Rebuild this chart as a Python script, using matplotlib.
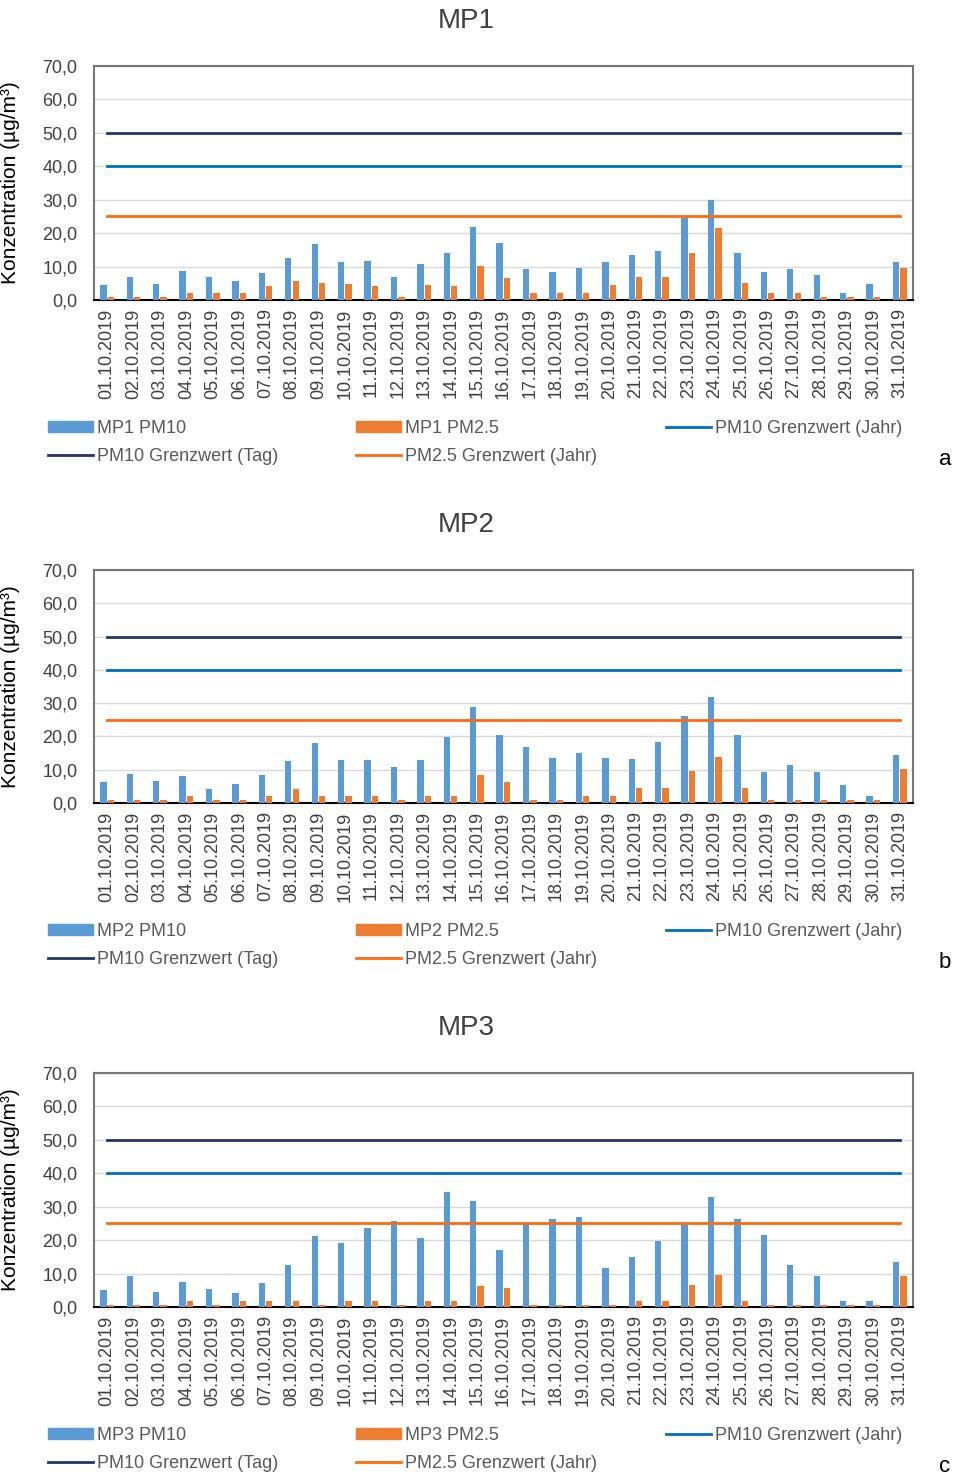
"""PM10 / PM2.5 daily concentrations at MP1-MP3, October 2019."""

import matplotlib
matplotlib.use("Agg")
import matplotlib.pyplot as plt
import numpy as np
from matplotlib.lines import Line2D
from matplotlib.patches import Patch

dates = [f"{d:02d}.10.2019" for d in range(1, 32)]

mp1_pm10 = [4.5, 6.8, 4.9, 8.7, 6.8, 5.6, 8.1, 12.6, 16.8, 11.3, 11.6, 6.8, 10.7, 14.2, 21.9, 17.1,
            9.3, 8.4, 9.7, 11.3, 13.5, 14.8, 24.5, 29.9, 14.2, 8.4, 9.3, 7.4, 2.0, 4.9, 11.3]
mp1_pm25 = [1.0, 1.0, 1.0, 2.0, 2.0, 2.0, 4.2, 5.6, 5.2, 4.9, 4.2, 1.0, 4.5, 4.2, 10.3, 6.5,
            2.0, 2.0, 2.0, 4.5, 6.8, 6.8, 14.2, 21.6, 5.2, 2.0, 2.0, 1.0, 1.0, 1.0, 9.7]

mp2_pm10 = [6.2, 8.7, 6.5, 8.1, 4.2, 5.8, 8.4, 12.6, 18.0, 12.9, 12.9, 10.7, 12.9, 19.7, 28.7, 20.3,
            16.8, 13.6, 14.9, 13.6, 13.2, 18.4, 26.1, 31.9, 20.3, 9.4, 11.3, 9.4, 5.5, 2.0, 14.5]
mp2_pm25 = [1.0, 1.0, 1.0, 2.0, 1.0, 1.0, 2.0, 4.2, 2.0, 2.0, 2.0, 1.0, 2.0, 2.0, 8.4, 6.2,
            1.0, 1.0, 2.0, 2.0, 4.5, 4.5, 9.7, 13.9, 4.5, 1.0, 1.0, 1.0, 1.0, 1.0, 10.3]

mp3_pm10 = [5.0, 9.3, 4.4, 7.4, 5.5, 4.1, 7.1, 12.5, 21.3, 19.1, 23.6, 25.6, 20.7, 34.3, 31.7, 17.1,
            24.9, 26.3, 26.9, 11.6, 14.9, 19.8, 24.9, 33.0, 26.3, 21.6, 12.5, 9.3, 1.9, 1.9, 13.5]
mp3_pm25 = [0.6, 0.6, 0.6, 1.9, 0.6, 1.9, 1.9, 1.9, 0.6, 1.9, 1.9, 0.6, 1.9, 1.9, 6.2, 5.8,
            0.6, 0.6, 0.6, 0.6, 1.9, 1.9, 6.7, 9.7, 1.9, 0.6, 0.6, 0.6, 0.6, 0.6, 9.3]

pm10_tag = 50.0
pm10_jahr = 40.0
pm25_jahr = 25.0

panels = [
    ("MP1", mp1_pm10, mp1_pm25, "a"),
    ("MP2", mp2_pm10, mp2_pm25, "b"),
    ("MP3", mp3_pm10, mp3_pm25, "c"),
]

C_PM10 = "#5B9BD5"
C_PM25 = "#ED7D31"
C_TAG = "#203864"
C_JAHR10 = "#0070C0"
C_JAHR25 = "#FF6A10"
TXT = "#404040"

plt.rcParams["font.family"] = ["Liberation Sans", "DejaVu Sans"]

W, H = 955, 1474
fig = plt.figure(figsize=(W / 100, H / 100), dpi=100)

# pixel geometry of each panel: (axes top, axes bottom)
boxes = [(66, 300), (570, 803), (1073, 1307)]
left_px, right_px = 94, 913

x = np.arange(len(dates))
bw = 0.24

for (name, pm10, pm25, letter), (top, bot) in zip(panels, boxes):
    ax = fig.add_axes([left_px / W, 1 - bot / H, (right_px - left_px) / W, (bot - top) / H])
    ax.bar(x - 0.145, pm10, bw, color=C_PM10, zorder=3)
    ax.bar(x + 0.135, pm25, bw, color=C_PM25, zorder=3)
    ax.plot(x, [pm10_tag] * len(x), color=C_TAG, lw=2, zorder=4)
    ax.plot(x, [pm10_jahr] * len(x), color=C_JAHR10, lw=2, zorder=4)
    ax.plot(x, [pm25_jahr] * len(x), color=C_JAHR25, lw=2, zorder=4)

    ax.set_xlim(-0.5, len(x) - 0.5)
    ax.set_ylim(0, 70)
    ax.set_yticks(np.arange(0, 71, 10))
    ax.set_yticklabels([f"{v:.1f}".replace(".", ",") for v in np.arange(0, 71, 10)])
    ax.set_xticks(x)
    ax.set_xticklabels(dates, rotation=90)
    ax.tick_params(axis="both", length=0, labelsize=13, labelcolor=TXT)
    ax.tick_params(axis="y", pad=12)
    ax.tick_params(axis="x", pad=6)
    ax.grid(axis="y", color="#D9D9D9", lw=1, zorder=0)
    ax.set_axisbelow(True)
    for s in ("top", "right", "left"):
        ax.spines[s].set_color("#767676")
        ax.spines[s].set_linewidth(1.5)
    ax.spines["bottom"].set_color("black")
    ax.spines["bottom"].set_linewidth(1.5)

    ax.set_ylabel("Konzentration (µg/m³)", fontsize=15, color="black")
    ax.yaxis.set_label_coords(-0.090, 0.5)

    fig.text(466 / W, 1 - (top - 45) / H, name, ha="center", va="center",
             fontsize=20, color=TXT)
    fig.text(945 / W, 1 - (bot + 159) / H, letter, ha="center", va="center",
             fontsize=16, color="black")

    h_pm10 = Patch(color=C_PM10)
    h_pm25 = Patch(color=C_PM25)
    h_tag = Line2D([], [], color=C_TAG, lw=2)
    h_j10 = Line2D([], [], color=C_JAHR10, lw=2)
    h_j25 = Line2D([], [], color=C_JAHR25, lw=2)
    cols = [
        (48, [h_pm10, h_tag], [f"{name} PM10", "PM10 Grenzwert (Tag)"]),
        (356, [h_pm25, h_j25], [f"{name} PM2.5", "PM2.5 Grenzwert (Jahr)"]),
        (666, [h_j10], ["PM10 Grenzwert (Jahr)"]),
    ]
    for cx, hs, ls in cols:
        fig.legend(hs, ls, loc="upper left", bbox_to_anchor=(cx / W, 1 - (bot + 120) / H),
                   frameon=False, fontsize=13, borderpad=0, borderaxespad=0,
                   handlelength=2.5, handleheight=0.55, handletextpad=0.2,
                   labelspacing=0.6, labelcolor="#595959")

fig.savefig("out.png", dpi=100)
